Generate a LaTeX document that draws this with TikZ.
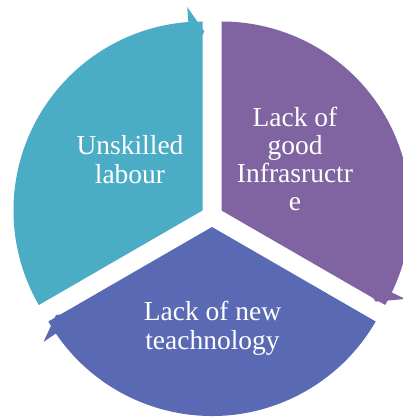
\documentclass[tikz,border=0pt]{standalone}
\usepackage{fontspec}
\setmainfont{Liberation Serif}
\definecolor{segteal}{HTML}{4BACC6}
\definecolor{segpurple}{HTML}{8064A2}
\definecolor{segblue}{HTML}{5A69B4}
\tikzset{seglabel/.style={text=white,align=center,inner sep=0pt,
  font=\fontsize{27.5pt}{28.5pt}\selectfont}}
\begin{document}
\begin{tikzpicture}[x=1pt,y=1pt]
\useasboundingbox (0,0) rectangle (402,420);

\begin{scope}[shift={(202.5pt,209.5pt)}]
  \fill[segteal] (0,0) -- (90:189pt) arc[start angle=90,end angle=210,radius=189pt] -- cycle;
  \fill[segteal] (94.3:204pt) -- (89.4:179pt) -- (94.3:154pt) -- cycle;
\end{scope}

\begin{scope}[shift={(221.5pt,209.5pt)}]
  \fill[segpurple] (0,0) -- (-30:189pt) arc[start angle=-30,end angle=90,radius=189pt] -- cycle;
  \fill[segpurple] (-25.7:204pt) -- (-30.6:179pt) -- (-25.7:154pt) -- cycle;
\end{scope}

\begin{scope}[shift={(212pt,193pt)}]
  \fill[segblue] (0,0) -- (210:189pt) arc[start angle=210,end angle=330,radius=189pt] -- cycle;
  \fill[segblue] (214.3:204pt) -- (209.4:179pt) -- (214.3:154pt) -- cycle;
\end{scope}


\node[seglabel] (labour) at (130,260.5) {Unskilled\\labour};
\node[seglabel,font=\fontsize{27.5pt}{28.3pt}\selectfont] (infra) at (295,261) {Lack of\\good\\Infrasructr\\e};
\node[seglabel] (techno) at (212.5,91.5) {Lack of new\\teachnology};
\end{tikzpicture}
\end{document}
